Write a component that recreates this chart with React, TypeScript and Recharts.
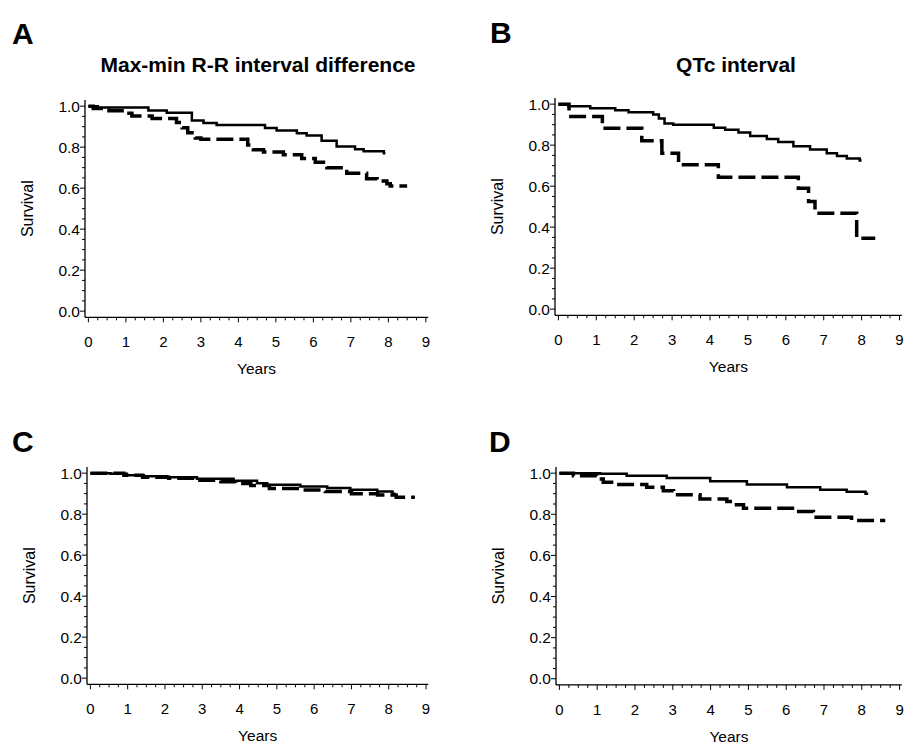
import { LineChart, Line, XAxis, YAxis } from "recharts";

// tick values (minor + major) and labels
const xTicks = [
  0, 0.25, 0.5, 0.75, 1, 1.25, 1.5, 1.75, 2, 2.25, 2.5, 2.75, 3, 3.25, 3.5, 3.75, 4,
  4.25, 4.5, 4.75, 5, 5.25, 5.5, 5.75, 6, 6.25, 6.5, 6.75, 7, 7.25, 7.5, 7.75, 8,
  8.25, 8.5, 8.75, 9,
];
const xTickLabels = ["0", "1", "2", "3", "4", "5", "6", "7", "8", "9"];
const yTicks = [
  0, 0.05, 0.1, 0.15, 0.2, 0.25, 0.3, 0.35, 0.4, 0.45, 0.5, 0.55, 0.6, 0.65, 0.7,
  0.75, 0.8, 0.85, 0.9, 0.95, 1,
];
const yTickLabels = ["0.0", "0.2", "0.4", "0.6", "0.8", "1.0"];

// A: Max-min R-R interval difference
const aSolidTime = [0, 0.25, 1.6, 2.09, 2.76, 3.07, 3.42, 4.71, 5.02, 5.56, 5.82, 6.22, 6.62, 7.11, 7.34, 7.88, 7.92];
const aSolidSurv = [1.0, 0.993, 0.979, 0.968, 0.93, 0.918, 0.908, 0.893, 0.881, 0.868, 0.857, 0.831, 0.803, 0.79, 0.78, 0.77, 0.77];
const aDashTime = [0, 0.13, 0.55, 1.0, 1.16, 1.7, 2.35, 2.5, 2.65, 2.85, 3.0, 4.25, 4.4, 4.67, 5.2, 5.69, 6.05, 6.36, 6.89, 7.42, 7.7, 7.96, 8.05, 8.5];
const aDashSurv = [1.0, 0.988, 0.978, 0.965, 0.952, 0.94, 0.92, 0.895, 0.87, 0.845, 0.839, 0.81, 0.787, 0.776, 0.763, 0.745, 0.726, 0.7, 0.673, 0.646, 0.635, 0.622, 0.61, 0.61];

// B: QTc interval
const bSolidTime = [0, 0.26, 0.84, 1.5, 1.85, 2.5, 2.65, 2.8, 3.03, 4.1, 4.4, 4.75, 5.06, 5.5, 5.8, 6.2, 6.64, 7.08, 7.35, 7.61, 7.95, 8.0];
const bSolidSurv = [1.0, 0.99, 0.98, 0.97, 0.96, 0.95, 0.93, 0.905, 0.899, 0.885, 0.875, 0.862, 0.845, 0.83, 0.815, 0.795, 0.779, 0.76, 0.747, 0.735, 0.725, 0.725];
const bDashTime = [0, 0.28, 1.16, 2.2, 2.73, 3.17, 4.22, 6.33, 6.6, 6.77, 7.87, 8.36];
const bDashSurv = [1.0, 0.94, 0.883, 0.821, 0.761, 0.704, 0.644, 0.59, 0.525, 0.468, 0.346, 0.346];

// C
const cSolidTime = [0, 0.54, 0.98, 1.43, 2.06, 2.86, 3.84, 4.47, 4.74, 5.63, 6.35, 6.97, 7.69, 8.1, 8.18];
const cSolidSurv = [1.0, 0.997, 0.99, 0.985, 0.98, 0.973, 0.963, 0.951, 0.943, 0.935, 0.927, 0.919, 0.911, 0.9, 0.9];
const cDashTime = [0, 0.9, 1.4, 2.1, 2.8, 3.5, 3.9, 4.3, 4.8, 5.6, 6.3, 7.0, 7.7, 8.2, 8.7];
const cDashSurv = [1.0, 0.99, 0.98, 0.975, 0.965, 0.958, 0.95, 0.94, 0.925, 0.918, 0.91, 0.9, 0.893, 0.882, 0.882];

// D
const dSolidTime = [0, 1.08, 1.78, 2.84, 3.99, 4.96, 6.02, 6.9, 7.6, 8.1, 8.17];
const dSolidSurv = [1.0, 0.997, 0.988, 0.977, 0.961, 0.945, 0.932, 0.919, 0.91, 0.9, 0.9];
const dDashTime = [0, 0.37, 0.99, 1.16, 1.52, 2.31, 2.75, 3.02, 3.72, 4.43, 4.6, 4.87, 6.28, 6.72, 7.73, 8.62];
const dDashSurv = [1.0, 0.988, 0.972, 0.956, 0.945, 0.932, 0.915, 0.895, 0.874, 0.862, 0.846, 0.829, 0.813, 0.786, 0.77, 0.77];

const FONT = '"Liberation Sans", Arial, Helvetica, sans-serif';
const X_DOMAIN: [number, number] = [-0.09, 9.06];
const Y_DOMAIN: [number, number] = [-0.03, 1.03];
const YW = 70;
const XH = 75;
const MT = 10;
const MR = 6;

const toPoints = (t: number[], s: number[]) => t.map((v, i) => ({ t: v, s: s[i] }));

function XTick({ x, y, payload }: any) {
  const v = payload.value as number;
  const major = Math.abs(v - Math.round(v)) < 1e-6;
  return (
    <g>
      <line x1={x} x2={x} y1={y} y2={y + (major ? 5 : 3)} stroke="#000" strokeWidth={1} />
      {major && (
        <text x={x} y={y + 30} textAnchor="middle" fontSize={15} fontFamily={FONT} fill="#000">
          {xTickLabels[Math.round(v)]}
        </text>
      )}
    </g>
  );
}

function YTick({ x, y, payload }: any) {
  const v = payload.value as number;
  const major = Math.abs(v * 5 - Math.round(v * 5)) < 1e-6;
  return (
    <g>
      <line x1={x} x2={x - (major ? 5 : 3)} y1={y} y2={y} stroke="#000" strokeWidth={1} />
      {major && (
        <text x={x - 5} y={y + 5.5} textAnchor="end" fontSize={15.5} fontFamily={FONT} fill="#000">
          {yTickLabels[Math.round(v * 5)]}
        </text>
      )}
    </g>
  );
}

type Cal = { x0: number; sx: number; y0: number; sy: number };

function Panel({
  cal,
  solid,
  dashed,
}: {
  cal: Cal;
  solid: { t: number; s: number }[];
  dashed: { t: number; s: number }[];
}) {
  const plotLeft = Math.round(cal.x0 + X_DOMAIN[0] * cal.sx);
  const plotTop = Math.round(cal.y0 - Y_DOMAIN[1] * cal.sy);
  const plotW = (X_DOMAIN[1] - X_DOMAIN[0]) * cal.sx;
  const plotH = (Y_DOMAIN[1] - Y_DOMAIN[0]) * cal.sy;
  return (
    <div style={{ position: "absolute", left: plotLeft - YW, top: plotTop - MT }}>
      <LineChart
        width={YW + plotW + MR}
        height={MT + plotH + XH}
        margin={{ top: MT, right: MR, bottom: 0, left: 0 }}
      >
        <XAxis
          dataKey="t"
          type="number"
          domain={X_DOMAIN}
          ticks={xTicks}
          interval={0}
          allowDataOverflow
          height={XH}
          tickSize={0}
          tickMargin={0}
          tickLine={false}
          tick={<XTick />}
          axisLine={{ stroke: "#000", strokeWidth: 1.3 }}
          label={{
            value: "Years",
            position: "insideBottom",
            offset: 18,
            style: { fontSize: 15.5, fontFamily: FONT, fill: "#000" },
          }}
        />
        <YAxis
          dataKey="s"
          type="number"
          domain={Y_DOMAIN}
          ticks={yTicks}
          interval={0}
          allowDataOverflow
          width={YW}
          tickSize={0}
          tickMargin={0}
          tickLine={false}
          tick={<YTick />}
          axisLine={{ stroke: "#000", strokeWidth: 1.3 }}
          label={{
            value: "Survival",
            angle: -90,
            position: "insideLeft",
            offset: 12,
            style: { textAnchor: "middle", fontSize: 16, fontFamily: FONT, fill: "#000" },
          }}
        />
        <Line
          data={dashed}
          dataKey="s"
          type="stepAfter"
          stroke="#000"
          strokeWidth={3.5}
          strokeDasharray="17 6"
          dot={false}
          isAnimationActive={false}
        />
        <Line
          data={solid}
          dataKey="s"
          type="stepAfter"
          stroke="#000"
          strokeWidth={2.5}
          dot={false}
          isAnimationActive={false}
        />
      </LineChart>
    </div>
  );
}

export default function App() {
  return (
    <div
      style={{
        position: "absolute",
        left: 0,
        top: 0,
        width: 904,
        height: 746,
        background: "#fff",
        overflow: "hidden",
      }}
    >
      <svg width={904} height={746} style={{ position: "absolute", left: 0, top: 0 }}>
        <g fontFamily={FONT} fontWeight="bold" fill="#000">
          <text x={12} y={44} fontSize={30}>A</text>
          <text x={490} y={43} fontSize={30}>B</text>
          <text x={12} y={452} fontSize={30}>C</text>
          <text x={489} y={452} fontSize={30}>D</text>
          <text x={258} y={72} fontSize={21} textAnchor="middle">
            Max-min R-R interval difference
          </text>
          <text x={736} y={72} fontSize={21} textAnchor="middle">
            QTc interval
          </text>
        </g>
      </svg>
      <Panel
        cal={{ x0: 88.3, sx: 37.5, y0: 310.7, sy: 205 }}
        solid={toPoints(aSolidTime, aSolidSurv)}
        dashed={toPoints(aDashTime, aDashSurv)}
      />
      <Panel
        cal={{ x0: 558.3, sx: 37.9, y0: 309.3, sy: 205 }}
        solid={toPoints(bSolidTime, bSolidSurv)}
        dashed={toPoints(bDashTime, bDashSurv)}
      />
      <Panel
        cal={{ x0: 90, sx: 37.3, y0: 678.3, sy: 205 }}
        solid={toPoints(cSolidTime, cSolidSurv)}
        dashed={toPoints(cDashTime, cDashSurv)}
      />
      <Panel
        cal={{ x0: 559.3, sx: 37.8, y0: 678.3, sy: 205.6 }}
        solid={toPoints(dSolidTime, dSolidSurv)}
        dashed={toPoints(dDashTime, dDashSurv)}
      />
    </div>
  );
}
